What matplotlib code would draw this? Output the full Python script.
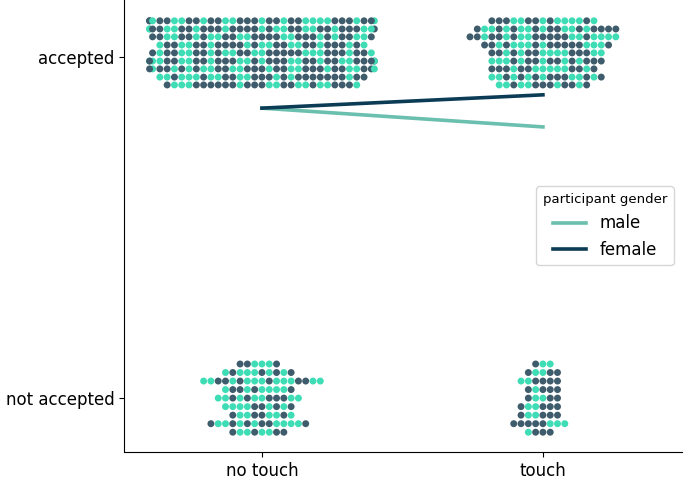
import warnings
warnings.filterwarnings("ignore")
import numpy as np
import pandas as pd
import matplotlib
matplotlib.use("Agg")
import matplotlib.pyplot as plt
import seaborn as sns

# ---------------- data ----------------
conditions = ["no touch", "touch"]
outcome_labels = ["not accepted", "accepted"]   # numeric levels 0, 1
genders = ["male", "female"]

# swarm rows per group: vertical offset from outcome level, male count, female count
acc_offsets = [0.106, 0.082, 0.059, 0.035, 0.012, -0.012, -0.035, -0.059, -0.082]
rej_offsets = [0.100, 0.075, 0.050, 0.025, 0.000, -0.025, -0.050, -0.075, -0.100]

nt_acc_male   = [14, 14, 13, 12, 13, 15, 14, 12, 11]
nt_acc_female = [20, 20, 18, 17, 18, 20, 19, 17, 16]

nt_rej_male   = [3, 6, 11, 6, 7, 6, 5, 8, 4]
nt_rej_female = [3, 4, 6, 4, 5, 4, 4, 6, 4]

t_acc_male    = [8, 9, 10, 8, 8, 7, 7, 8, 6]
t_acc_female  = [7, 11, 11, 10, 8, 9, 8, 8, 7]

t_rej_male    = [2, 2, 2, 1, 2, 2, 2, 3, 1]
t_rej_female  = [1, 3, 4, 4, 3, 4, 4, 5, 3]

# mean acceptance lines
male_line = [0.850, 0.795]
female_line = [0.850, 0.889]

point_colors = {"male": "#3fddb5", "female": "#3e5c6c"}
line_colors = {"male": "#6bbfae", "female": "#0b3b55"}

# ---------------- build table ----------------
def expand(cond, level, offsets, males, females):
    recs = []
    for r, (off, m, f) in enumerate(zip(offsets, males, females)):
        n = m + f
        # mix the two genders within the row (order only, counts are exact)
        keys = [((k + 1) * 0.6180339 + r * 0.29) % 1.0 for k in range(n)]
        rank = np.argsort(np.argsort(keys))
        for k in range(n):
            recs.append((cond, level + off, "male" if rank[k] < m else "female"))
    return recs

records = []
records += expand("no touch", 1, acc_offsets, nt_acc_male, nt_acc_female)
records += expand("no touch", 0, rej_offsets, nt_rej_male, nt_rej_female)
records += expand("touch", 1, acc_offsets, t_acc_male, t_acc_female)
records += expand("touch", 0, rej_offsets, t_rej_male, t_rej_female)
df = pd.DataFrame(records, columns=["condition", "value", "gender"])

# ---------------- plot ----------------
fig = plt.figure(figsize=(6.85, 4.8), dpi=100)
ax = fig.add_axes([124 / 685, 28 / 480, (682 - 124) / 685, 452 / 480])

sns.swarmplot(data=df, x="condition", y="value", hue="gender", order=conditions,
              hue_order=genders, palette=point_colors, size=5, legend=False, ax=ax)

xpos = np.arange(len(conditions))
ax.plot(xpos, male_line, color=line_colors["male"], lw=2.6, label="male", zorder=3)
ax.plot(xpos, female_line, color=line_colors["female"], lw=2.6, label="female", zorder=3)

ax.set_yticks([0, 1])
ax.set_yticklabels(outcome_labels)
ax.set_xlabel("")
ax.set_ylabel("")
ax.tick_params(labelsize=12)
ax.set_xlim(-0.491, 1.495)
ax.set_ylim(-0.158, 1.167)
sns.despine(ax=ax)

ax.legend(title="participant gender", loc="center right", fontsize=12,
          title_fontsize=9.5)

fig.savefig("out.png", dpi=100)
